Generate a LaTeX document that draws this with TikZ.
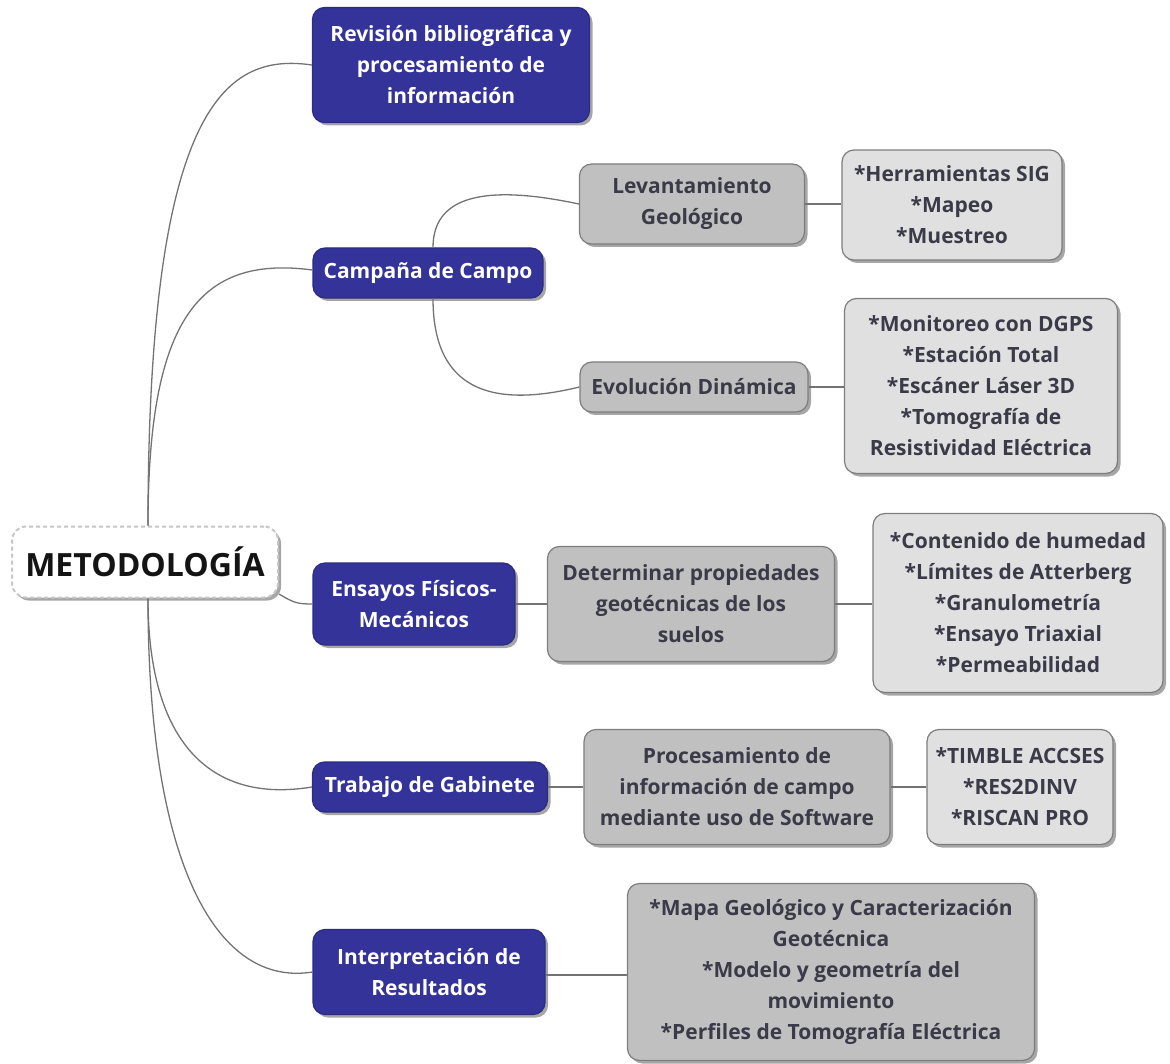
\documentclass[tikz,border=0pt]{standalone}
\usepackage{fontspec}
\setmainfont{Open Sans}
\usetikzlibrary{shadows,positioning}
\definecolor{azul}{RGB}{51,51,153}
\definecolor{grismed}{RGB}{192,192,192}
\definecolor{grisclaro}{RGB}{224,224,224}
\definecolor{borde}{RGB}{125,125,125}
\definecolor{linea}{RGB}{115,115,115}
\definecolor{texto}{RGB}{58,58,72}

\begin{document}
\begin{tikzpicture}[x=1pt,y=-1pt,font=\fontsize{21}{31}\selectfont\bfseries]
  \tikzstyle{base}=[rounded corners=12pt,align=center,inner sep=0pt,line width=1.2pt,drop shadow={shadow xshift=3pt,shadow yshift=-3pt,fill=black,opacity=0.35}]
  \tikzstyle{raiz}=[base,rounded corners=14pt,fill=white,draw=gray!45,dash pattern=on 4pt off 3pt,line width=2pt,text=black!92]
  \tikzstyle{tema}=[base,fill=azul,draw=azul!85!black,text=white]
  \tikzstyle{paso}=[base,fill=grismed,draw=borde,text=texto]
  \tikzstyle{lista}=[base,fill=grisclaro,draw=borde,text=texto]
  \tikzstyle{conector}=[draw=linea,line width=1.3pt]
  \useasboundingbox (0,0) rectangle (1170,1064);

  % raiz
  \node[raiz,minimum width=266,minimum height=71,font=\fontsize{32}{36}\selectfont\bfseries] (met) at (145,562) {METODOLOGÍA};

  % temas
  \node[tema,minimum width=277,minimum height=115] (rev) at (451,65) {Revisión bibliográfica y\\procesamiento de\\información};
  \node[tema,minimum width=230,minimum height=50] (cam) at (428,273) {Campaña de Campo};
  \node[tema,minimum width=202,minimum height=82] (ens) at (414,604) {Ensayos Físicos-\\Mecánicos};
  \node[tema,minimum width=235,minimum height=50] (gab) at (430,787) {Trabajo de Gabinete};
  \node[tema,minimum width=232,minimum height=85] (int) at (429,972) {Interpretación de\\Resultados};

  % pasos
  \node[paso,minimum width=225,minimum height=80] (lev) at (692,204) {Levantamiento\\Geológico};
  \node[paso,minimum width=228,minimum height=50] (evo) at (694,387) {Evolución Dinámica};
  \node[paso,minimum width=287,minimum height=115] (det) at (691,604) {Determinar propiedades\\geotécnicas de los\\suelos};
  \node[paso,minimum width=306,minimum height=115] (pro) at (737,787) {Procesamiento de\\información de campo\\mediante uso de Software};
  \node[paso,minimum width=407,minimum height=177] (res) at (831,972) {*Mapa Geológico y Caracterización\\Geotécnica\\*Modelo y geometría del\\movimiento\\*Perfiles de Tomografía Eléctrica};

  % listas
  \node[lista,minimum width=220,minimum height=110] (sig) at (952,205) {*Herramientas SIG\\*Mapeo\\*Muestreo};
  \node[lista,minimum width=273,minimum height=175] (mon) at (981,386) {*Monitoreo con DGPS\\*Estación Total\\*Escáner Láser 3D\\*Tomografía de\\Resistividad Eléctrica};
  \node[lista,minimum width=290,minimum height=179] (lab) at (1018,603) {*Contenido de humedad\\*Límites de Atterberg\\*Granulometría\\*Ensayo Triaxial\\*Permeabilidad};
  \node[lista,minimum width=186,minimum height=115] (sof) at (1020,787) {*TIMBLE ACCSES\\*RES2DINV\\*RISCAN PRO};

  % ramas de la raiz
  \draw[conector] ([xshift=3pt]met.north) .. controls +(0,-427) and +(-83,-12) .. (rev.west);
  \draw[conector] ([xshift=3pt]met.north) .. controls +(0,-207) and +(-113,-15) .. ([yshift=3pt]cam.west);
  \draw[conector] ([yshift=-32pt]met.east) .. controls +(15,9) and +(-15,0) .. (ens.west);
  \draw[conector] ([xshift=3pt]met.south) .. controls +(0,142) and +(-103,17) .. (gab.west);
  \draw[conector] ([xshift=3pt]met.south) .. controls +(0,272) and +(-93,15) .. (int.west);

  % ramas de campo
  \draw[conector] ([xshift=5pt]cam.north) .. controls +(0,-58) and +(-80,-17) .. (lev.west);
  \draw[conector] ([xshift=5pt]cam.south) .. controls +(0,90) and +(-90,22) .. (evo.west);

  % tramos rectos
  \draw[conector] (lev.east) -- (lev.east -| sig.west);
  \draw[conector] (evo.east) -- (evo.east -| mon.west);
  \draw[conector] (ens.east) -- (ens.east -| det.west);
  \draw[conector] (det.east) -- (det.east -| lab.west);
  \draw[conector] (gab.east) -- (gab.east -| pro.west);
  \draw[conector] (pro.east) -- (pro.east -| sof.west);
  \draw[conector] ([yshift=-3pt]int.east) -- ([yshift=-3pt]int.east -| res.west);
\end{tikzpicture}
\end{document}
